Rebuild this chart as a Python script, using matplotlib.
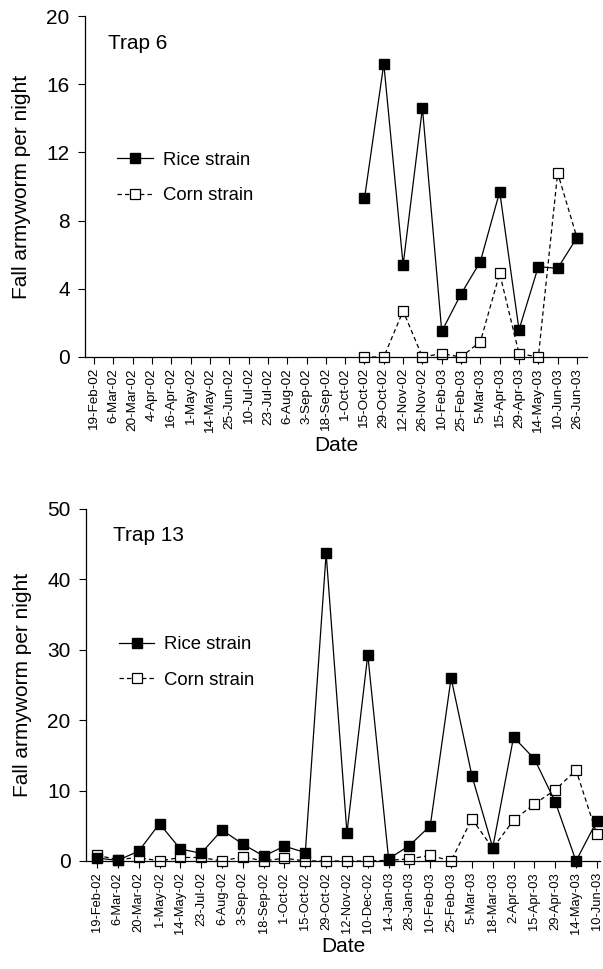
import numpy as np
import matplotlib
matplotlib.use("Agg")
import matplotlib.pyplot as plt

plt.rcParams["font.family"] = ["Liberation Sans", "DejaVu Sans"]

# Trap 6 data
dates6 = ["19-Feb-02", "6-Mar-02", "20-Mar-02", "4-Apr-02", "16-Apr-02", "1-May-02",
          "14-May-02", "25-Jun-02", "10-Jul-02", "23-Jul-02", "6-Aug-02", "3-Sep-02",
          "18-Sep-02", "1-Oct-02", "15-Oct-02", "29-Oct-02", "12-Nov-02", "26-Nov-02",
          "10-Feb-03", "25-Feb-03", "5-Mar-03", "15-Apr-03", "29-Apr-03", "14-May-03",
          "10-Jun-03", "26-Jun-03"]
rice6 = [np.nan] * 14 + [9.3, 17.2, 5.4, 14.6, 1.5, 3.7, 5.6, 9.7, 1.6, 5.3, 5.2, 7.0]
corn6 = [np.nan] * 14 + [0.0, 0.0, 2.7, 0.0, 0.2, 0.0, 0.9, 4.9, 0.2, 0.0, 10.8, 7.0]

# Trap 13 data
dates13 = ["19-Feb-02", "6-Mar-02", "20-Mar-02", "1-May-02", "14-May-02", "23-Jul-02",
           "6-Aug-02", "3-Sep-02", "18-Sep-02", "1-Oct-02", "15-Oct-02", "29-Oct-02",
           "12-Nov-02", "10-Dec-02", "14-Jan-03", "28-Jan-03", "10-Feb-03", "25-Feb-03",
           "5-Mar-03", "18-Mar-03", "2-Apr-03", "15-Apr-03", "29-Apr-03", "14-May-03",
           "10-Jun-03"]
rice13 = [0.4, 0.1, 1.4, 5.3, 1.7, 1.1, 4.4, 2.4, 0.7, 2.1, 1.2, 43.7,
          4.0, 29.3, 0.3, 2.2, 5.0, 26.0, 12.1, 1.9, 17.6, 14.5, 8.4, 0.0, 5.7]
corn13 = [0.8, 0.2, 0.5, 0.0, 0.5, 0.5, 0.0, 0.6, 0.0, 0.4, 0.0, 0.0,
          0.0, 0.0, 0.1, 0.3, 0.8, 0.0, 6.0, 1.8, 5.8, 8.1, 10.1, 12.9, 3.8]

W, H = 603, 969
fig = plt.figure(figsize=(W / 100, H / 100), dpi=100)


def panel(rect, dates, rice, corn, ymax, yticks, xlim, xfs, title, title_xy, leg_xy):
    ax = fig.add_axes(rect)
    x = np.arange(len(dates))
    ax.plot(x, rice, "-", color="black", lw=0.9, marker="s", ms=7,
            mfc="black", mec="black", label="Rice strain", zorder=3)
    ax.plot(x, corn, "--", color="black", lw=0.9, marker="s", ms=7,
            mfc="white", mec="black", mew=0.9, label="Corn strain", zorder=2,
            dashes=(3.5, 2.5))
    ax.set_xlim(*xlim)
    ax.set_ylim(0, ymax)
    ax.set_yticks(yticks)
    ax.set_xticks(x)
    ax.set_xticklabels(dates, rotation=90, fontsize=xfs)
    ax.tick_params(axis="y", labelsize=15, length=5, width=0.8, direction="out", pad=6)
    ax.tick_params(axis="x", length=5, width=0.8, direction="out", pad=3)
    for s in ["top", "right"]:
        ax.spines[s].set_visible(False)
    for s in ["left", "bottom"]:
        ax.spines[s].set_linewidth(0.9)
    ax.set_ylabel("Fall armyworm per night", fontsize=15, labelpad=11)
    ax.set_xlabel("Date", fontsize=15, labelpad=2)
    ax.text(title_xy[0], title_xy[1], title, transform=ax.transAxes,
            fontsize=15, ha="left", va="center")
    ax.legend(loc="upper left", bbox_to_anchor=leg_xy, frameon=False,
              fontsize=13.3, handlelength=1.9, handletextpad=0.55,
              labelspacing=1.0, borderaxespad=0)
    for ln in ax.lines:
        ln.set_clip_on(False)
    return ax


panel([85 / W, 1 - 357 / H, (587 - 85) / W, (357 - 16) / H],
      dates6, rice6, corn6, 20, [0, 4, 8, 12, 16, 20], (-0.47, 25.52), 9.7,
      "Trap 6", (0.045, 0.92), (0.05, 0.624))

panel([86 / W, 1 - 861 / H, (600 - 86) / W, (861 - 509) / H],
      dates13, rice13, corn13, 50, [0, 10, 20, 30, 40, 50], (-0.53, 24.15), 9.3,
      "Trap 13", (0.052, 0.926), (0.05, 0.66))

fig.savefig("out.png", dpi=100)
